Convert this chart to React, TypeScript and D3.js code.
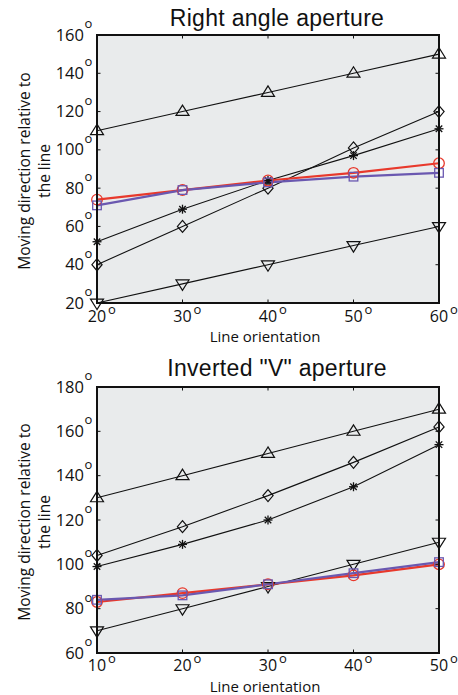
import React from "react";
import * as d3 from "d3";

// ---------- data ----------
const topTitle = "Right angle aperture";
const topX = [20, 30, 40, 50, 60];
const topXTicks = [20, 30, 40, 50, 60];
const topYTicks = [20, 40, 60, 80, 100, 120, 140, 160];
const topTriUp = [110, 120, 130, 140, 150];
const topDiamond = [40, 60, 80, 101, 120];
const topStar = [52, 69, 84, 97, 111];
const topTriDown = [20, 30, 40, 50, 60];
const topRed = [74, 79, 84, 88, 93];
const topBlue = [71, 79, 83, 86, 88];

const botTitle = 'Inverted "V" aperture';
const botX = [10, 20, 30, 40, 50];
const botXTicks = [10, 20, 30, 40, 50];
const botYTicks = [60, 80, 100, 120, 140, 160, 180];
const botTriUp = [130, 140, 150, 160, 170];
const botDiamond = [104, 117, 131, 146, 162];
const botStar = [99, 109, 120, 135, 154];
const botTriDown = [70, 80, 90, 100, 110];
const botRed = [83, 87, 91, 95, 100];
const botBlue = [84, 86, 91, 96, 101];

type Series = { values: number[]; marker: string; color: string; width: number };

const TITLE_FONT = "'Liberation Sans', Arial, sans-serif";
const FONT = "'Open Sans', 'Liberation Sans', sans-serif";

function Marker({ type, x, y, color }: { type: string; x: number; y: number; color: string }) {
  const sw = 1.2;
  if (type === "triUp") {
    const s = 6.5;
    const pts = [[x, y - s], [x - s, y + s * 0.6], [x + s, y + s * 0.6]];
    return <polygon points={pts.map((p) => p.join(",")).join(" ")} fill="none" stroke={color} strokeWidth={sw} />;
  }
  if (type === "triDown") {
    const s = 6.5;
    const pts = [[x, y + s], [x - s, y - s * 0.6], [x + s, y - s * 0.6]];
    return <polygon points={pts.map((p) => p.join(",")).join(" ")} fill="none" stroke={color} strokeWidth={sw} />;
  }
  if (type === "diamond") {
    const s = 6;
    const pts = [[x, y - s], [x + s * 0.85, y], [x, y + s], [x - s * 0.85, y]];
    return <polygon points={pts.map((p) => p.join(",")).join(" ")} fill="none" stroke={color} strokeWidth={sw} />;
  }
  if (type === "star") {
    const s = 4.5;
    const d = s * 0.72;
    return (
      <g stroke={color} strokeWidth={1.3}>
        <line x1={x - s} y1={y} x2={x + s} y2={y} />
        <line x1={x} y1={y - s} x2={x} y2={y + s} />
        <line x1={x - d} y1={y - d} x2={x + d} y2={y + d} />
        <line x1={x - d} y1={y + d} x2={x + d} y2={y - d} />
      </g>
    );
  }
  if (type === "circle") {
    return <circle cx={x} cy={y} r={5.3} fill="none" stroke={color} strokeWidth={1.3} />;
  }
  if (type === "square") {
    const s = 4.3;
    return <rect x={x - s} y={y - s} width={2 * s} height={2 * s} fill="none" stroke={color} strokeWidth={1.3} />;
  }
  return null;
}

function Panel({
  title, xs, xTicks, yTicks, series, top, bottom, titleY, xLabelY, tickLabelY,
}: {
  title: string; xs: number[]; xTicks: number[]; yTicks: number[]; series: Series[];
  top: number; bottom: number; titleY: number; xLabelY: number; tickLabelY: number;
}) {
  const left = 97;
  const right = 439;
  const x = d3.scaleLinear().domain([xTicks[0], xTicks[xTicks.length - 1]]).range([left, right]);
  const y = d3.scaleLinear().domain([yTicks[0], yTicks[yTicks.length - 1]]).range([bottom, top]);
  const line = d3.line<number>().x((_, i) => x(xs[i])).y((v) => y(v));
  const tl = 3.5;
  const midY = (top + bottom) / 2;
  return (
    <g>
      <rect x={left} y={top} width={right - left} height={bottom - top} fill="#e9ebec" />
      <text x={277} y={titleY} textAnchor="middle" fontSize={23} letterSpacing={0.3} fontFamily={TITLE_FONT} fill="#111">
        {title}
      </text>
      {series.map((s, si) => (
        <g key={si}>
          <path d={line(s.values) || ""} fill="none" stroke={s.color} strokeWidth={s.width} />
        </g>
      ))}
      {series.map((s, si) => (
        <g key={"m" + si}>
          {s.values.map((v, i) => (
            <Marker key={i} type={s.marker} x={x(xs[i])} y={y(v)} color={s.color} />
          ))}
        </g>
      ))}
      {xTicks.map((t) => (
        <g key={"xt" + t} stroke="#111" strokeWidth={1}>
          <line x1={x(t)} x2={x(t)} y1={bottom} y2={bottom - tl} />
          <line x1={x(t)} x2={x(t)} y1={top} y2={top + tl} />
        </g>
      ))}
      {yTicks.map((t) => (
        <g key={"yt" + t} stroke="#111" strokeWidth={1}>
          <line x1={left} x2={left + tl} y1={y(t)} y2={y(t)} />
          <line x1={right} x2={right - tl} y1={y(t)} y2={y(t)} />
        </g>
      ))}
      <rect x={left} y={top} width={right - left} height={bottom - top} fill="none" stroke="#111" strokeWidth={2} />
      {yTicks.map((t) => (
        <g key={"yl" + t}>
          <text x={84} y={y(t) + 5.5} textAnchor="end" fontSize={16.5} fontFamily={FONT} fill="#111">
            {t}
          </text>
          <text x={84.5} y={y(t) - 7} fontSize={13} fontFamily={FONT} fill="#111">o</text>
        </g>
      ))}
      {xTicks.map((t) => (
        <g key={"xl" + t}>
          <text x={x(t)} y={tickLabelY} textAnchor="middle" fontSize={16} fontFamily={FONT} fill="#111">
            {t}
          </text>
          <text x={x(t) + 11} y={tickLabelY - 8} fontSize={13} fontFamily={FONT} fill="#111">o</text>
        </g>
      ))}
      <text x={265} y={xLabelY} textAnchor="middle" fontSize={15} fontFamily={FONT} fill="#111">
        Line orientation
      </text>
      <g transform={`translate(30,${midY + 2}) rotate(-90)`}>
        <text x={0} y={0} textAnchor="middle" fontSize={15.5} fontFamily={FONT} fill="#111">
          Moving direction relative to
        </text>
        <text x={0} y={19.5} textAnchor="middle" fontSize={15.5} fontFamily={FONT} fill="#111">
          the line
        </text>
      </g>
    </g>
  );
}

const RED = "#e8392c";
const BLUE = "#6a58b0";

export default function App() {
  const topSeries: Series[] = [
    { values: topTriUp, marker: "triUp", color: "#111", width: 1.1 },
    { values: topDiamond, marker: "diamond", color: "#111", width: 1.1 },
    { values: topStar, marker: "star", color: "#111", width: 1.1 },
    { values: topTriDown, marker: "triDown", color: "#111", width: 1.1 },
    { values: topRed, marker: "circle", color: RED, width: 2.2 },
    { values: topBlue, marker: "square", color: BLUE, width: 2.2 },
  ];
  const botSeries: Series[] = [
    { values: botTriUp, marker: "triUp", color: "#111", width: 1.1 },
    { values: botDiamond, marker: "diamond", color: "#111", width: 1.1 },
    { values: botStar, marker: "star", color: "#111", width: 1.1 },
    { values: botTriDown, marker: "triDown", color: "#111", width: 1.1 },
    { values: botRed, marker: "circle", color: RED, width: 2.2 },
    { values: botBlue, marker: "square", color: BLUE, width: 2.2 },
  ];
  return (
    <svg width={458} height={695} style={{ position: "absolute", left: 0, top: 0, background: "#fff" }}>
      <rect width={458} height={695} fill="#fff" />
      <Panel title={topTitle} xs={topX} xTicks={topXTicks} yTicks={topYTicks} series={topSeries}
        top={35} bottom={303} titleY={26} xLabelY={342} tickLabelY={321.5} />
      <Panel title={botTitle} xs={botX} xTicks={botXTicks} yTicks={botYTicks} series={botSeries}
        top={387} bottom={653} titleY={376} xLabelY={692} tickLabelY={671} />
    </svg>
  );
}
